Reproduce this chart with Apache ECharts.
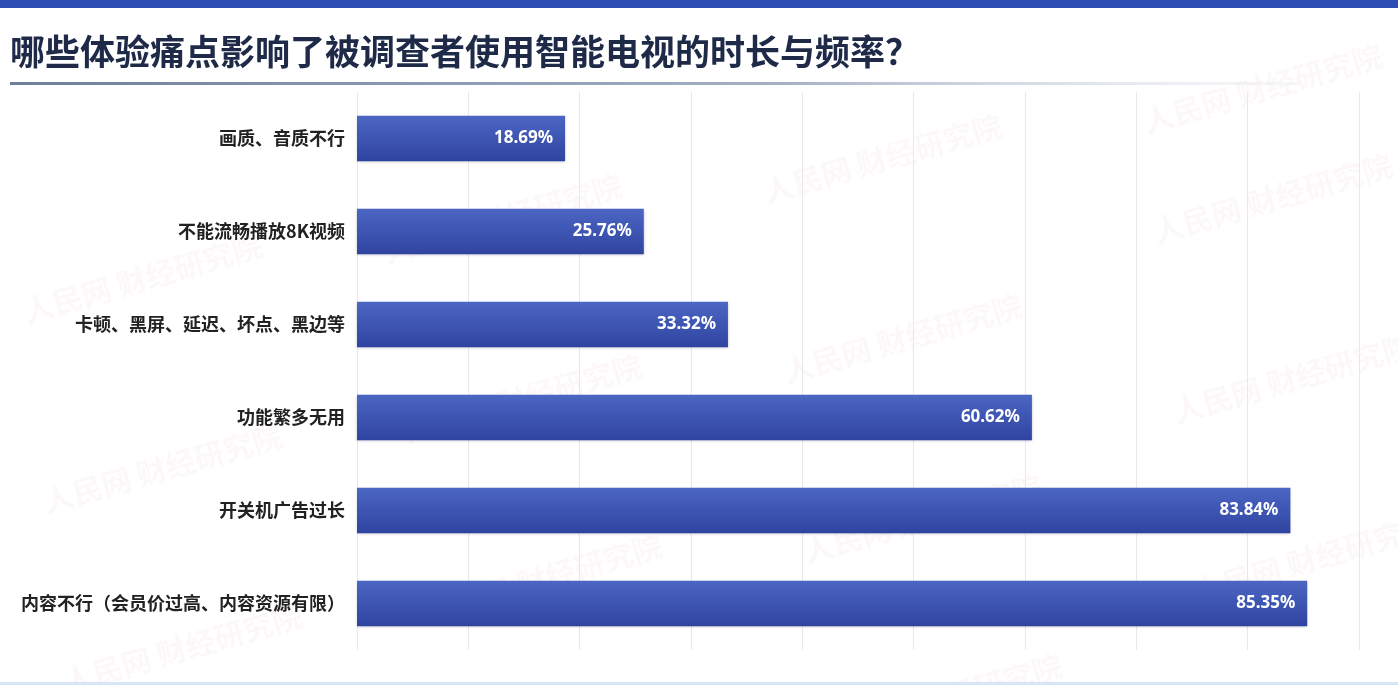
<!DOCTYPE html>
<html>
<head>
<meta charset="utf-8">
<script src="https://cdn.jsdelivr.net/npm/echarts@6/dist/echarts.min.js"></script>
<style>
html,body{margin:0;padding:0;background:#fff;}
#main{width:1398px;height:685px;}
</style>
</head>
<body>
<div id="main"></div>
<script>
const titleText = '哪些体验痛点影响了被调查者使用智能电视的时长与频率？';
const categories = ['画质、音质不行', '不能流畅播放8K视频', '卡顿、黑屏、延迟、坏点、黑边等', '功能繁多无用', '开关机广告过长', '内容不行（会员价过高、内容资源有限）'];
const values = [18.69, 25.76, 33.32, 60.62, 83.84, 85.35];
const watermarkText = '人民网 财经研究院';

const chart = echarts.init(document.getElementById('main'));

const wmPositions = [[20,230],[40,420],[60,600],[380,170],[400,350],[420,530],[760,110],[780,290],[800,470],[820,650],[1150,150],[1170,330],[1190,510],[1140,40]];
const watermarks = wmPositions.map(p => ({
  type: 'text', left: p[0], top: p[1], rotation: 0.28, silent: true, z: -1,
  style: { text: watermarkText, fill: 'rgba(225,120,120,0.055)', font: 'bold 30px "Noto Sans CJK SC"' }
}));

chart.setOption({
  backgroundColor: '#ffffff',
  graphic: [
    { type: 'rect', left: 0, top: 0, shape: { width: 1398, height: 8 }, style: { fill: '#2d4db5' } },
    { type: 'rect', left: 0, top: 682, shape: { width: 1398, height: 3 }, style: { fill: '#d6e6f6' } },
    { type: 'text', left: 10, top: 34, style: { text: titleText, fill: '#1e2a48', font: 'bold 35px "Noto Sans CJK SC"' } },
    { type: 'rect', left: 10, top: 82, shape: { width: 1290, height: 3 },
      style: { fill: new echarts.graphic.LinearGradient(0, 0, 1, 0, [
        { offset: 0, color: '#6f7f9c' }, { offset: 0.6, color: '#a5b0c4' }, { offset: 1, color: 'rgba(220,225,235,0.2)' }]) } }
  ].concat(watermarks),
  grid: { left: 357, right: 39, top: 92, bottom: 35, containLabel: false },
  xAxis: {
    type: 'value', min: 0, max: 90, interval: 10,
    axisLabel: { show: false }, axisLine: { show: false }, axisTick: { show: false },
    splitLine: { show: true, lineStyle: { color: '#e8e8e8', width: 1 } }
  },
  yAxis: {
    type: 'category', data: categories, inverse: true,
    axisLine: { show: false }, axisTick: { show: false },
    axisLabel: { color: '#222', fontSize: 18, fontWeight: 'bold', margin: 12, fontFamily: 'Noto Sans CJK SC' }
  },
  series: [{
    type: 'bar', data: values, barCategoryGap: '51%',
    itemStyle: {
      color: new echarts.graphic.LinearGradient(0, 0, 0, 1, [
        { offset: 0, color: '#4c66c4' }, { offset: 1, color: '#2f449f' }]),
      shadowColor: 'rgba(0,0,40,0.25)', shadowBlur: 3, shadowOffsetY: 1
    },
    label: {
      show: true, position: 'insideRight', distance: 12,
      formatter: p => p.value.toFixed(2) + '%',
      color: '#ffffff', fontSize: 17, fontWeight: 'bold', fontFamily: 'Noto Sans'
    }
  }],
  animation: false
});
</script>
</body>
</html>
